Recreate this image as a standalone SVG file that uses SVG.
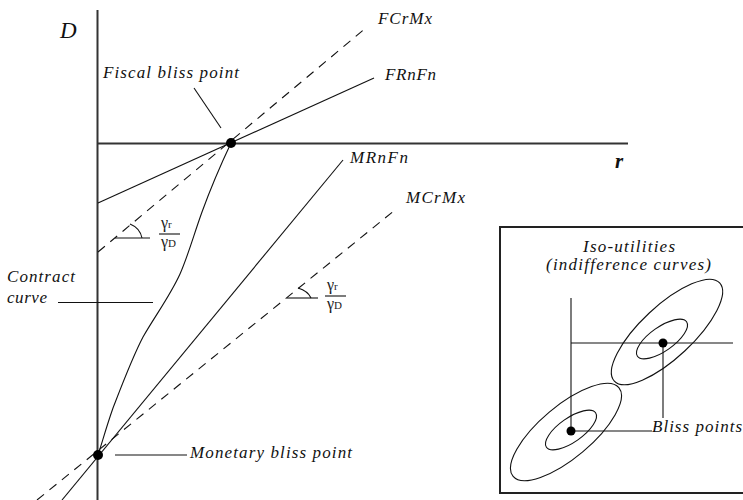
<svg xmlns="http://www.w3.org/2000/svg" width="743" height="500" viewBox="0 0 743 500">
<style>
.lbl{font-family:"Liberation Serif","DejaVu Serif",serif;font-style:italic;font-size:17px;fill:#111}
.g{font-family:"Liberation Serif","DejaVu Serif",serif;font-size:16px;fill:#222}
.sub{font-size:11px}
.ln{stroke:#111;stroke-width:1.1;fill:none}
.dash{stroke:#111;stroke-width:1.1;fill:none;stroke-dasharray:9 7}
.ax{stroke:#333;stroke-width:2;fill:none}
.dot{fill:#000}
</style>
<rect width="743" height="500" fill="#fff"/>
<g id="axes">
<line class="ax" x1="97.5" y1="10" x2="97.5" y2="500"/>
<line class="ax" x1="97" y1="143.5" x2="628" y2="143.5" stroke="#111"/>
<text class="lbl" x="60" y="38" style="font-size:23px">D</text>
<text class="lbl" x="615" y="168" style="font-size:21px;font-weight:bold">r</text>
</g>
<g id="connectors">
<line class="dash" x1="98" y1="252" x2="367" y2="27"/>
<line class="ln" x1="98" y1="203" x2="374" y2="78"/>
<line class="ln" x1="62" y1="500" x2="343" y2="160"/>
<line class="dash" x1="37" y1="500" x2="395" y2="210"/>
<path class="ln" d="M231,143 C222,162 210,190 202,212 C194,234 188,256 180,274 C170,296 155,316 143,337 C132,358 120,390 113,408 C106,428 102,443 98,455"/>
<line class="ln" x1="194" y1="88" x2="221" y2="128"/>
<line class="ln" x1="58" y1="302.5" x2="153" y2="302.5"/>
<line class="ln" x1="115" y1="455" x2="187" y2="455" stroke="#444" stroke-width="1.5"/>
<line class="ln" x1="115" y1="238" x2="150" y2="238"/>
<path class="ln" d="M130,224 Q140,228 142,238"/>
<line class="ln" x1="287" y1="298" x2="318" y2="298"/>
<path class="ln" d="M298,288 Q308,291 311,298"/>
</g>
<g id="fiscal-bliss-point">
<circle class="dot" cx="231" cy="143" r="5"/>
<text class="lbl" x="103" y="78" textLength="136" lengthAdjust="spacing">Fiscal bliss point</text>
</g>
<g id="monetary-bliss-point">
<circle class="dot" cx="98" cy="455" r="5"/>
<text class="lbl" x="190" y="458" textLength="162" lengthAdjust="spacing">Monetary bliss point</text>
</g>
<g id="line-labels">
<text class="lbl" x="378" y="24" textLength="54" lengthAdjust="spacing">FCrMx</text>
<text class="lbl" x="385" y="80" textLength="51" lengthAdjust="spacing">FRnFn</text>
<text class="lbl" x="350" y="163" textLength="58" lengthAdjust="spacing">MRnFn</text>
<text class="lbl" x="406" y="203" textLength="59" lengthAdjust="spacing">MCrMx</text>
</g>
<g id="contract-curve">
<text class="lbl" x="7" y="282" textLength="68" lengthAdjust="spacing">Contract</text>
<text class="lbl" x="7" y="303" textLength="40" lengthAdjust="spacing">curve</text>
</g>
<g id="ratio-1">
<text class="g" x="161" y="228">γ<tspan class="sub">r</tspan></text>
<line class="ln" x1="159" y1="234" x2="180" y2="234"/>
<text class="g" x="161" y="247">γ<tspan class="sub">D</tspan></text>
</g>
<g id="ratio-2">
<text class="g" x="327" y="290">γ<tspan class="sub">r</tspan></text>
<line class="ln" x1="325" y1="296" x2="346" y2="296"/>
<text class="g" x="327" y="309">γ<tspan class="sub">D</tspan></text>
</g>
<g id="inset">
<rect x="500" y="227" width="250" height="266" fill="none" stroke="#222" stroke-width="2"/>
<text class="lbl" x="583" y="252" textLength="92" lengthAdjust="spacing">Iso-utilities</text>
<text class="lbl" x="546" y="270" textLength="165" lengthAdjust="spacing">(indifference curves)</text>
<ellipse class="ln" cx="667" cy="332" rx="72" ry="26" transform="rotate(-43 667 332)"/>
<ellipse class="ln" cx="662" cy="339" rx="30" ry="12" transform="rotate(-35 662 339)"/>
<ellipse class="ln" cx="566" cy="432" rx="69" ry="26" transform="rotate(-40 566 432)"/>
<ellipse class="ln" cx="571" cy="430" rx="30" ry="12" transform="rotate(-35 571 430)"/>
<line class="ln" x1="571" y1="298" x2="571" y2="431"/>
<line class="ln" x1="571" y1="343" x2="733" y2="343"/>
<line class="ln" x1="663" y1="343" x2="663" y2="418"/>
<line class="ln" x1="571" y1="431" x2="652" y2="431" stroke="#444" stroke-width="1.5"/>
<circle class="dot" cx="663" cy="343" r="4.5"/>
<circle class="dot" cx="571" cy="431" r="4.5"/>
<text class="lbl" x="652" y="432" textLength="90" lengthAdjust="spacing">Bliss points</text>
</g>
</svg>
